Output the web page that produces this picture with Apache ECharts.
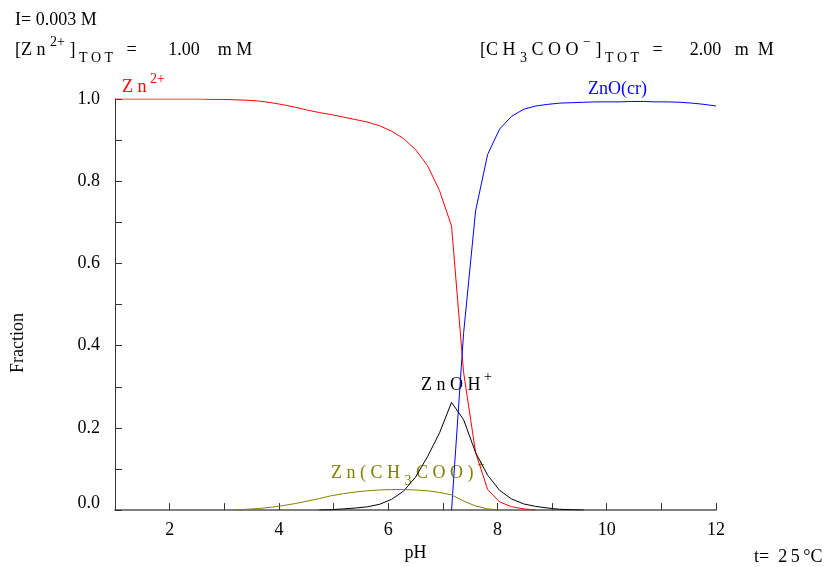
<!DOCTYPE html>
<html>
<head>
<meta charset="utf-8">
<script src="https://cdn.jsdelivr.net/npm/echarts@6/dist/echarts.min.js"></script>
<style>html,body{margin:0;padding:0;background:#fff;}#c{width:827px;height:567px;}</style>
</head>
<body>
<div id="c"></div>
<script>
var pH = [1.00,1.22,1.44,1.66,1.88,2.10,2.32,2.54,2.76,2.98,3.20,3.42,3.64,3.86,4.08,4.30,4.52,4.74,4.96,5.18,5.40,5.62,5.84,6.06,6.28,6.50,6.72,6.94,7.16,7.38,7.60,7.82,8.04,8.26,8.48,8.70,8.92,9.14,9.36,9.58,9.80,10.02,10.24,10.46,10.68,10.90,11.12,11.34,11.56,11.78,12.00];

// values aligned with pH (null = species not plotted)
var zn2 = [1.000,1.000,1.000,1.000,1.000,1.000,1.000,1.000,0.999,0.999,0.998,0.997,0.995,0.991,0.986,0.980,0.973,0.967,0.962,0.956,0.950,0.944,0.935,0.922,0.904,0.877,0.838,0.777,0.691,0.335,0.140,0.050,0.020,0.008,0.003,0.000,null,null,null,null,null,null,null,null,null,null,null,null,null,null,null];
var znoCr = [null,null,null,null,null,null,null,null,null,null,null,null,null,null,null,null,null,null,null,null,null,null,null,null,null,null,null,null,0.000,0.430,0.728,0.865,0.927,0.958,0.975,0.983,0.987,0.990,0.991,0.992,0.993,0.993,0.993,0.994,0.994,0.993,0.993,0.992,0.990,0.987,0.983];
var znOH = [null,null,null,null,null,null,null,null,null,null,null,null,null,null,null,null,null,0.000,0.001,0.003,0.005,0.008,0.014,0.026,0.046,0.080,0.130,0.188,0.262,0.220,0.140,0.085,0.048,0.027,0.015,0.009,0.005,0.002,0.001,0.000,null,null,null,null,null,null,null,null,null,null,null];
var znAc = [null,null,null,null,null,null,null,null,null,null,0.000,0.002,0.004,0.007,0.011,0.016,0.022,0.028,0.035,0.040,0.044,0.047,0.049,0.050,0.050,0.049,0.047,0.043,0.037,0.022,0.010,0.003,0.000,null,null,null,null,null,null,null,null,null,null,null,null,null,null,null,null,null,null];

var xTicks = [2,4,6,8,10,12];
var yTicks = [0.0,0.2,0.4,0.6,0.8,1.0];

function pairs(v){ var out=[]; for(var i=0;i<pH.length;i++){ if(v[i]!==null) out.push([pH[i],v[i]]); } return out; }

var FF = '"Liberation Serif", "Times New Roman", serif';
var chart = echarts.init(document.getElementById('c'));

function rich(color){
  return {
    n:{fontFamily:FF,fontSize:18,color:color,lineHeight:30,verticalAlign:'middle'},
    sp:{fontFamily:FF,fontSize:14,color:color,lineHeight:16,verticalAlign:'top'},
    sb:{fontFamily:FF,fontSize:14,color:color,lineHeight:13,verticalAlign:'bottom'}
  };
}
function txt(x,y,text,color){
  return {type:'text',x:x,y:y,style:{text:text,rich:rich(color),fill:color,font:'18px '+FF,verticalAlign:'middle',align:'left'}};
}

var option = {
  animation:false,
  backgroundColor:'#fff',
  grid:{left:115,right:111,top:99,bottom:53},
  xAxis:{type:'value',min:1,max:12,interval:1,
    axisLine:{lineStyle:{color:'#555',width:1.5}},
    axisTick:{inside:true,length:7,lineStyle:{color:'#333'}},
    splitLine:{show:false},
    axisLabel:{margin:11,color:'#000',fontFamily:FF,fontSize:18,
      formatter:function(v){ return xTicks.indexOf(v)>=0 ? String(v) : ''; }},
    name:'pH',nameLocation:'middle',nameGap:32,nameTextStyle:{color:'#000',fontFamily:FF,fontSize:18}
  },
  yAxis:{type:'value',min:0,max:1,interval:0.1,
    axisLine:{show:true,lineStyle:{color:'#333',width:1}},
    axisTick:{show:true,inside:true,length:7,lineStyle:{color:'#333'}},
    splitLine:{show:false},
    axisLabel:{margin:15,color:'#000',fontFamily:FF,fontSize:18,
      rich:{z:{fontFamily:FF,fontSize:18,color:'#000',padding:[0,0,14,0]}},
      formatter:function(v){ var r=Math.round(v*10)/10; for(var i=0;i<yTicks.length;i++){ if(Math.abs(yTicks[i]-r)<1e-9 && Math.abs(v-r)<1e-6) return r===0 ? '{z|'+r.toFixed(1)+'}' : r.toFixed(1);} return ''; }}
  },
  series:[
    {type:'line',name:'Zn2+',data:pairs(zn2),showSymbol:false,lineStyle:{color:'#ff0000',width:1},itemStyle:{color:'#ff0000'},z:3},
    {type:'line',name:'ZnO(cr)',data:pairs(znoCr),showSymbol:false,lineStyle:{color:'#0000ff',width:1},itemStyle:{color:'#0000ff'},z:3},
    {type:'line',name:'ZnOH+',data:pairs(znOH),showSymbol:false,lineStyle:{color:'#000000',width:1},itemStyle:{color:'#000'},z:3},
    {type:'line',name:'Zn(CH3COO)+',data:pairs(znAc),showSymbol:false,lineStyle:{color:'#808000',width:1},itemStyle:{color:'#808000'},z:3}
  ],
  graphic:[
    txt(15,20,'{n|I= 0.003 M}','#000'),
    txt(15,50,'{n|[Z n }{sp|2+}{n| ]}{sb| T O T}{n|   =       1.00    m M}','#000'),
    txt(480,50,'{n|[C H }{sb|3}{n| C O O }{sp|\u2212}{n| ]}{sb| T O T}{n|   =      2.00   m  M}','#000'),
    txt(122,87,'{n|Z n\u2009}{sp|2+}','#ff0000'),
    txt(588,89,'{n|ZnO(cr)}','#0000ff'),
    txt(421,385,'{n|Z n O H\u2009}{sp|+}','#000'),
    txt(331,473,'{n|Z n ( C H }{sb|3}{n| C O O )}{sp| +}','#808000'),
    txt(754,557,'{n|t=  2\u20095\u2009\u00b0C}','#000'),
    {type:'text',x:18,y:343,rotation:Math.PI/2,style:{text:'Fraction',font:'18px '+FF,fill:'#000',align:'center',verticalAlign:'middle'}}
  ]
};
chart.setOption(option);
</script>
</body>
</html>
